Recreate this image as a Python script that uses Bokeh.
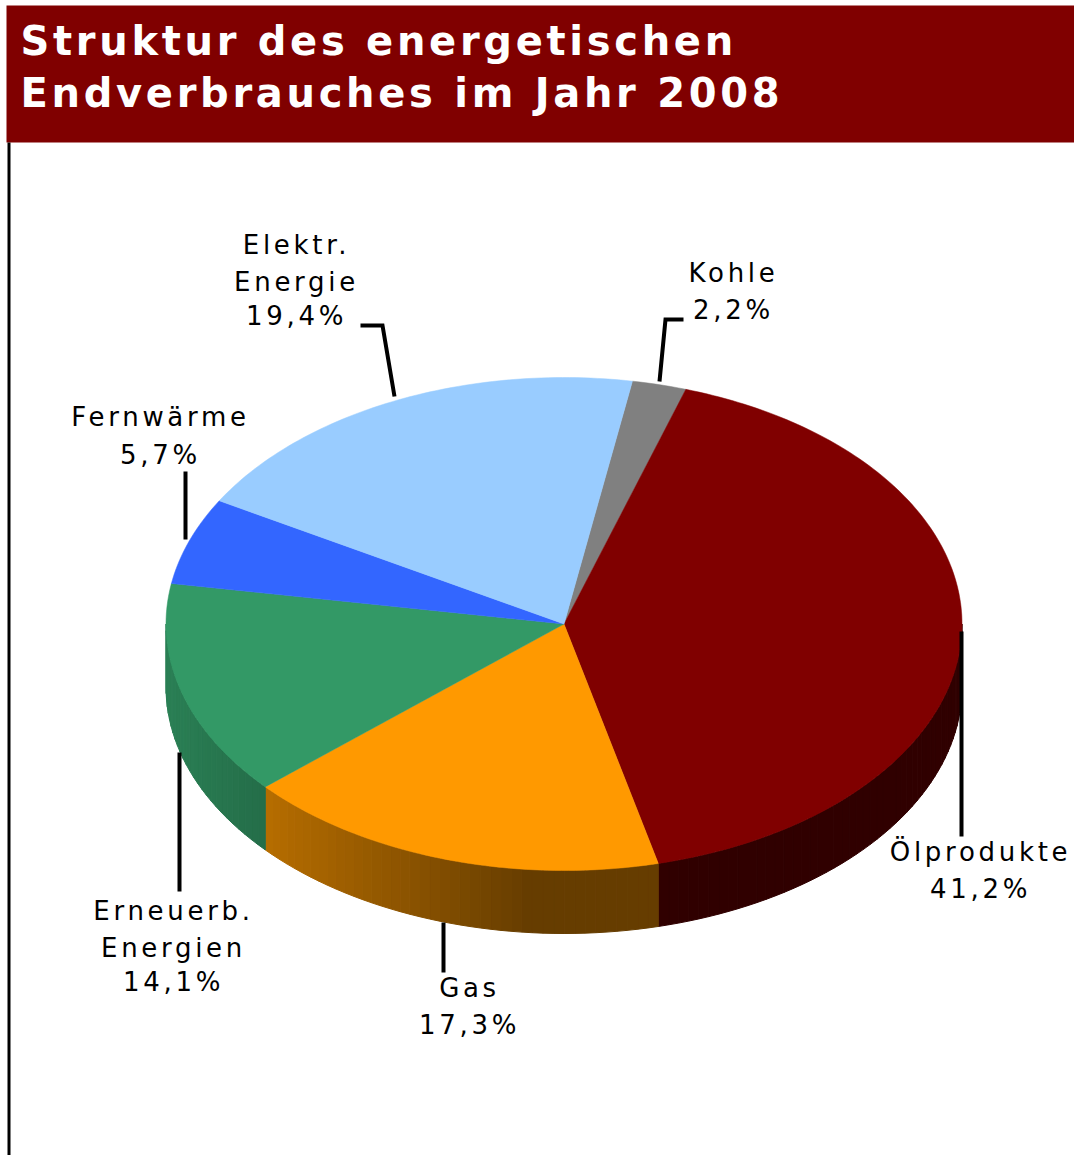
import math
from bokeh.plotting import figure
from bokeh.core.properties import value
from bokeh.embed import file_html
from bokeh.resources import INLINE

# ---- data ----
title_lines = ["Struktur des energetischen", "Endverbrauches im Jahr 2008"]
categories = ["Kohle", "Ölprodukte", "Gas", "Erneuerb. Energien", "Fernwärme", "Elektr. Energie"]
shares = [2.2, 41.2, 17.3, 14.1, 5.7, 19.4]
top_colors = ["#808080", "#800000", "#FF9900", "#339966", "#3366FF", "#99CCFF"]
label_lines = [["Kohle"], ["Ölprodukte"], ["Gas"], ["Erneuerb.", "Energien"], ["Fernwärme"], ["Elektr.", "Energie"]]

# ---- layout (pixels) ----
CX, CY, RX, RY, DEPTH = 563.5, 623.5, 398.0, 246.5, 63.0
START = 9.9
SPACING = 3.7
label_pos = [
    (733, [272, 309]),
    (980, [851, 888]),
    (469, [987, 1024]),
    (173, [910, 947, 981]),
    (160, [416, 454]),
    (296, [244, 281, 315]),
]
leaders = [
    ([683, 665, 659], [319, 319, 381]),
    ([961, 961], [631, 836]),
    ([443, 443], [922, 972]),
    ([179, 179], [752, 891]),
    ([185, 185], [471, 539]),
    ([360, 382, 394], [325, 325, 396]),
]

p = figure(width=1074, height=1155, x_range=(0, 1074), y_range=(1155, 0),
           toolbar_location=None, output_backend="svg", min_border=0)
p.axis.visible = False
p.grid.visible = False
p.outline_line_color = None
p.background_fill_color = "#FFFFFF"
p.stylesheets = [":host{letter-spacing:%spx}" % SPACING]


def pt(t):
    r = math.radians(t)
    return CX + RX * math.sin(r), CY - RY * math.cos(r)


def shade(x):
    f = 0.72 + (262 - x) * (0.72 - 0.40) / (530 - 262)
    return max(0.40, min(0.84, f))


def mix(color, f):
    c = [int(color[i:i + 2], 16) for i in (1, 3, 5)]
    return "#%02x%02x%02x" % tuple(int(v * f) for v in c)


# angular extents from the values
total = sum(shares)
bounds = [START]
for s in shares:
    bounds.append(bounds[-1] + s / total * 360)

# side wall
sx, sy, sc = [], [], []
for i, col in enumerate(top_colors):
    a, b = max(bounds[i], 90), min(bounds[i + 1], 270)
    if b <= a:
        continue
    n = max(1, int((b - a) / 1.5))
    for k in range(n):
        t0, t1 = a + (b - a) * k / n, a + (b - a) * (k + 1) / n
        x0, y0 = pt(t0)
        x1, y1 = pt(t1)
        sx.append([x0, x1, x1, x0])
        sy.append([y0, y1, y1 + DEPTH, y0 + DEPTH])
        sc.append(mix(col, shade((x0 + x1) / 2)) if col != "#800000" else "#300000")
p.patches(sx, sy, fill_color=sc, line_color=sc, line_width=1)

# top face
tx, ty = [], []
for i in range(len(shares)):
    a, b = bounds[i], bounds[i + 1]
    n = max(4, int((b - a) / 1.0))
    pts = [pt(a + (b - a) * k / n) for k in range(n + 1)]
    tx.append([CX] + [q[0] for q in pts])
    ty.append([CY] + [q[1] for q in pts])
p.patches(tx, ty, fill_color=top_colors, line_color=top_colors, line_width=0.5)

# leader lines
for lx, ly in leaders:
    p.line(lx, ly, line_color="#000000", line_width=4, line_join="miter")

# labels (the centring ignores letter spacing, so it is compensated here)
txt_x, txt_y, txt = [], [], []
for lines, s, (x, ys) in zip(label_lines, shares, label_pos):
    full = lines + [f"{s:.1f}".replace(".", ",") + "%"]
    for line, y in zip(full, ys):
        txt_x.append(x - len(line) * SPACING / 2); txt_y.append(y); txt.append(line)
p.text(txt_x, txt_y, txt, text_font=value("DejaVu Sans"), text_font_size="26px",
       text_color="#000000", text_align="center", text_baseline="middle")

# header and frame
p.quad(left=[6], right=[1074], top=[5], bottom=[142], fill_color="#800000", line_color=None)
p.quad(left=[7], right=[10], top=[142], bottom=[1155], fill_color="#000000", line_color=None)
p.text([20, 20], [40, 92], title_lines, text_font=value("DejaVu Sans"), text_font_style="bold",
       text_font_size="40px", text_color="#FFFFFF", text_align="left", text_baseline="middle")

open("out.html", "w").write(file_html(p, INLINE))
